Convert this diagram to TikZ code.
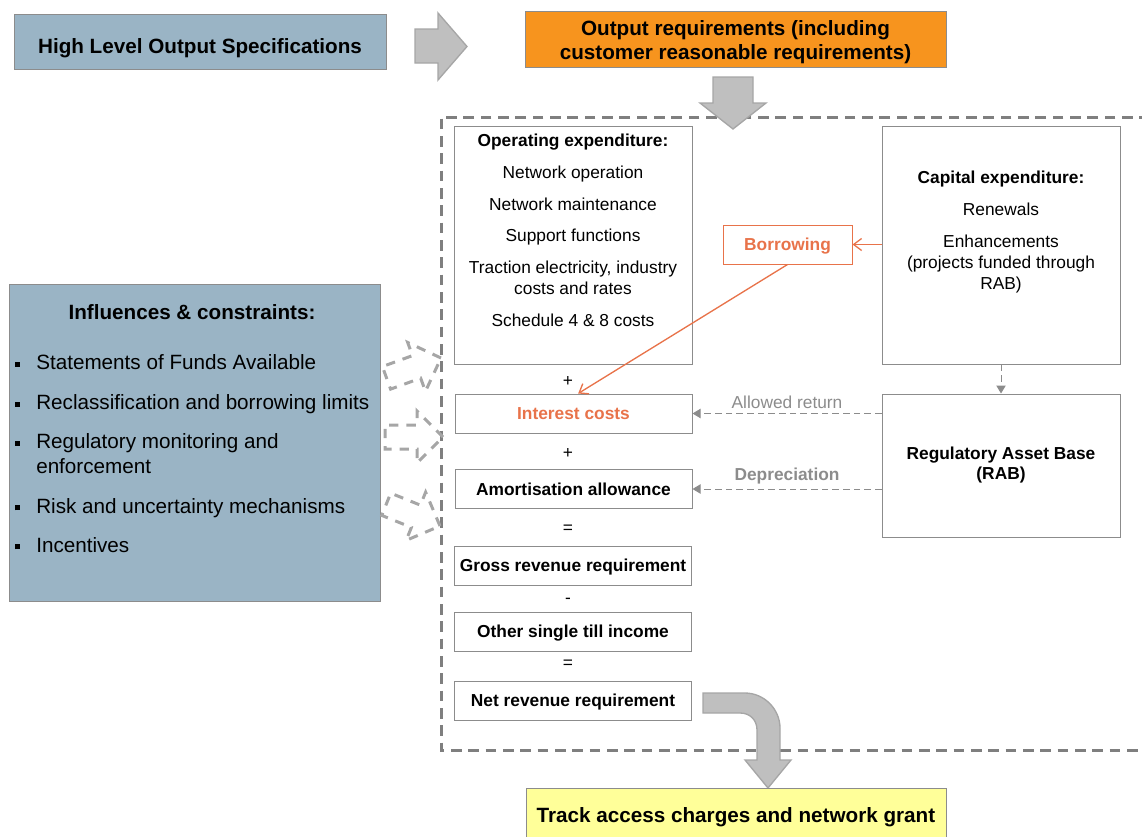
\documentclass[tikz,border=0pt]{standalone}
\usepackage{fontspec}
\setmainfont{Liberation Sans}
\usepackage{xcolor}
\usepackage{tikz}
\usetikzlibrary{arrows.meta}
\definecolor{boxblue}{HTML}{9AB4C5}
\definecolor{outorange}{HTML}{F7941E}
\definecolor{borrowred}{HTML}{E8734A}
\definecolor{trackyellow}{HTML}{FFFF99}
\definecolor{arrowgrey}{HTML}{BFBFBF}
\definecolor{arrowedge}{HTML}{A6A6A6}
\definecolor{frameGrey}{HTML}{7F7F7F}
\definecolor{lineGrey}{HTML}{8C8C8C}

\tikzset{
    costBox/.style={draw=lineGrey, line width=0.75pt, minimum width=177.75pt,
        minimum height=29.25pt, inner sep=0pt, text height=9.3pt, text depth=0pt,
        font=\fontsize{13}{15}\selectfont\bfseries},
    bigBox/.style={draw=lineGrey, line width=0.75pt, inner sep=0pt, align=center,
        font=\fontsize{15.5}{18}\selectfont\bfseries},
    plainBox/.style={draw=lineGrey, line width=0.75pt, inner sep=0pt},
    smallText/.style={inner sep=0pt, align=center, font=\fontsize{13}{15.75}\selectfont},
    listText/.style={inner sep=0pt, anchor=north west, align=left,
        font=\fontsize{15.5}{18.75}\selectfont},
    blockArrow/.style={fill=arrowgrey, draw=arrowedge, line width=1pt},
    hollowArrow/.style={draw=arrowedge, line width=2.25pt, dash pattern=on 7pt off 6pt},
    returnLine/.style={draw=lineGrey, dash pattern=on 5pt off 3pt,
        -{Triangle[length=6pt,width=7pt]}, line width=0.75pt},
    borrowLine/.style={draw=borrowred, -{Straight Barb[length=6pt,width=9pt]}, line width=1pt},
    sign/.style={inner sep=0pt, font=\fontsize{13}{15}\selectfont},
}

\newcommand{\bulletMark}{\makebox[15.75pt][l]{\rule[2.2pt]{3.75pt}{3.75pt}}}

\begin{document}
\begin{tikzpicture}[x=0.75pt, y=-0.75pt]
    \useasboundingbox (0,0) rectangle (1142,836);

    % top row
    \node[bigBox, fill=boxblue, minimum width=279pt, minimum height=41.25pt,
        text height=17.9pt, text depth=0pt] (hlos)
        at (200,41.5) {High Level Output Specifications};
    \node[plainBox, fill=outorange, minimum width=315.75pt, minimum height=42pt] (outreq)
        at (735.5,39) {};
    \node[bigBox, draw=none, yshift=-2.6pt] (outreqtxt) at (outreq.center)
        {Output requirements (including\\customer reasonable requirements)};
    \draw[blockArrow] (415,29) -- (438,29) -- (438,13) -- (467,46.5) -- (438,80) -- (438,63)
        -- (415,63) -- cycle;

    % dashed frame round the building blocks
    \draw[frameGrey, line width=2.25pt, dash pattern=on 8pt off 5pt]
        (1150,117) -- (441,117) -- (441,750) -- (1150,750);
    \draw[blockArrow] (713,77) -- (753,77) -- (753,103) -- (766,103) -- (733,129) -- (700,103)
        -- (713,103) -- cycle;

    % influences
    \node[plainBox, fill=boxblue, minimum width=278.25pt, minimum height=237.75pt] (infl)
        at (194.5,442.5) {};
    \node[inner sep=0pt, font=\fontsize{15.5}{18}\selectfont\bfseries] (infltitle)
        at (192,312) {Influences \& constraints:};
    \node[listText] (inflA) at (15,354.5) {\bulletMark Statements of Funds Available};
    \node[listText] (inflB) at (15,394.5) {\bulletMark Reclassification and borrowing limits};
    \node[listText] (inflC) at (15,433.5)
        {\bulletMark Regulatory monitoring and\\\hspace*{15.75pt}enforcement};
    \node[listText] (inflD) at (15,498) {\bulletMark Risk and uncertainty mechanisms};
    \node[listText] (inflE) at (15,537) {\bulletMark Incentives};
    \foreach \tipx/\tipy/\ang in {441/358/20, 443/437/0, 440/526/-22}
        \draw[hollowArrow, shift={(\tipx,\tipy)}, rotate=\ang] (0,0) -- (-26,-26) -- (-26,-12)
            -- (-58,-12) -- (-58,12) -- (-26,12) -- (-26,26) -- cycle;

    % expenditure
    \node[plainBox, minimum width=178.5pt, minimum height=178.5pt] (opex) at (573,245) {};
    \node[smallText, anchor=north] (opextxt) at (573,134)
        {\textbf{Operating expenditure:}\\[8pt] Network operation\\[8pt] Network maintenance\\[8pt]
        Support functions\\[8pt] Traction electricity, industry\\costs and rates\\[8pt]
        Schedule 4 \& 8 costs};
    \node[plainBox, minimum width=178.5pt, minimum height=178.5pt] (capex) at (1001,245) {};
    \node[smallText, anchor=north] (capextxt) at (1001,171)
        {\textbf{Capital expenditure:}\\[8pt] Renewals\\[8pt] Enhancements\\(projects funded through\\RAB)};
    \node[costBox, draw=borrowred, text=borrowred, minimum width=96.75pt] (borrow)
        at (787.5,244.5) {Borrowing};
    \node[plainBox, align=center, minimum width=178.5pt, minimum height=107.25pt,
        font=\fontsize{13}{15}\selectfont\bfseries] (rab)
        at (1001,465.5) {Regulatory Asset Base\\(RAB)};

    % revenue build-up
    \node[costBox, text=borrowred] (interest) at (573.5,413.5) {Interest costs};
    \node[costBox] (amort) at (573.5,489) {Amortisation allowance};
    \node[costBox] (gross) at (573,565.5) {Gross revenue requirement};
    \node[costBox] (other) at (573,631.5) {Other single till income};
    \node[costBox] (net) at (573,700.5) {Net revenue requirement};
    \foreach \y/\s in {381/+, 453/+, 529/=, 601/-, 664/=}
        \node[sign] (sign\y) at (568,\y) {\s};

    \draw[borrowLine] (borrow.east -| capex.west) -- (borrow.east);
    \draw[borrowLine] (borrow.south) -- ([xshift=3.5pt]interest.north);
    \draw[returnLine] (capex.south) -- (rab.north);
    \draw[returnLine] (interest.east -| rab.west) -- node[above, text=lineGrey,
        font=\fontsize{13}{15}\selectfont] (allowlbl) {Allowed return} (interest.east);
    \draw[returnLine] (amort.east -| rab.west) -- node[above, text=lineGrey,
        font=\fontsize{13}{15}\selectfont\bfseries] (deprlbl) {Depreciation} (amort.east);

    % result
    \draw[blockArrow] (703,693) -- (745,693) .. controls (764,693) and (780,709) .. (780,728)
        -- (780,760) -- (791,760) -- (768,788) -- (745,760) -- (757,760) -- (757,730)
        .. controls (757,720) and (750,713) .. (740,713) -- (703,713) -- cycle;
    \node[bigBox, fill=trackyellow, minimum width=315pt, minimum height=40.5pt,
        text height=11.1pt, text depth=0pt] (track)
        at (736,815) {Track access charges and network grant};
\end{tikzpicture}
\end{document}
